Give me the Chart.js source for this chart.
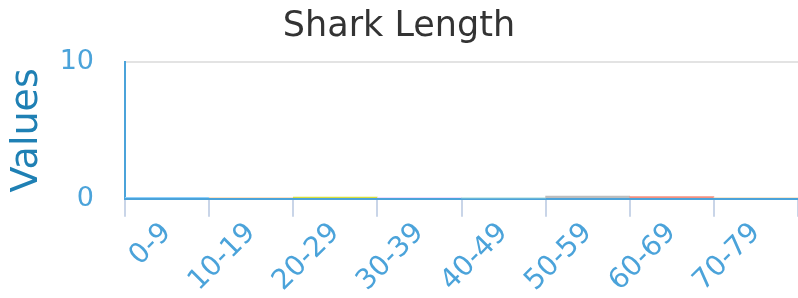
<!DOCTYPE html>
<html>
<head>
<meta charset="utf-8">
<script src="https://cdn.jsdelivr.net/npm/chart.js@4/dist/chart.umd.min.js"></script>
<style>
  html, body { margin: 0; padding: 0; background: #fff; }
  #wrap { width: 798px; height: 298px; }
</style>
</head>
<body>
<div id="wrap"><canvas id="sharkChart"></canvas></div>
<script>
const categories = ['0-9', '10-19', '20-29', '30-39', '40-49', '50-59', '60-69', '70-79'];
const lengthValues = [0.1, 0.08, 0.12, 0.08, 0.04, 0.2, 0.15, 0.08];
const barColors = ['#8fd0fb', '#fcd9b0', '#d6df3c', '#ead2fb', '#9fd8d8', '#bdbdbd', '#f4907f', '#f3dfc1'];
const yTicks = [0, 10];

const ctx = document.getElementById('sharkChart').getContext('2d');

new Chart(ctx, {
    type: 'bar',
    data: {
        labels: categories,
        datasets: [{
            label: 'Shark Length',
            data: lengthValues,
            backgroundColor: barColors,
            borderWidth: 0,
            barPercentage: 1,
            categoryPercentage: 1
        }]
    },
    options: {
        responsive: true,
        maintainAspectRatio: false,
        animation: false,
        layout: { padding: 0 },
        plugins: {
            legend: { display: false },
            tooltip: { enabled: false },
            title: {
                display: true,
                text: 'Shark Length',
                color: '#333333',
                font: { family: 'DejaVu Sans', size: 35, weight: 'normal' },
                padding: { top: 6, bottom: 14 }
            }
        },
        scales: {
            x: {
                z: 1,
                grid: {
                    drawOnChartArea: false,
                    color: '#c9d5e8',
                    lineWidth: 2,
                    tickLength: 18
                },
                border: { color: '#4ba3da', width: 2 },
                ticks: {
                    color: '#4ba3da',
                    maxRotation: 45,
                    minRotation: 45,
                    padding: 0,
                    font: { family: 'DejaVu Sans', size: 28 }
                }
            },
            y: {
                min: yTicks[0],
                max: yTicks[yTicks.length - 1],
                afterBuildTicks: function (axis) {
                    axis.ticks = yTicks.map(v => ({ value: v }));
                },
                afterFit: function (axis) {
                    axis.width = 125;
                },
                grid: {
                    color: '#e3e3e3',
                    lineWidth: 2,
                    drawTicks: false
                },
                border: { color: '#4ba3da', width: 2 },
                ticks: {
                    color: '#4ba3da',
                    padding: 31,
                    font: { family: 'DejaVu Sans', size: 27 }
                },
                title: {
                    display: true,
                    text: 'Values',
                    color: '#1f80b4',
                    padding: { top: 4, bottom: 0 },
                    font: { family: 'DejaVu Sans', size: 38 }
                }
            }
        }
    }
});
</script>
</body>
</html>
